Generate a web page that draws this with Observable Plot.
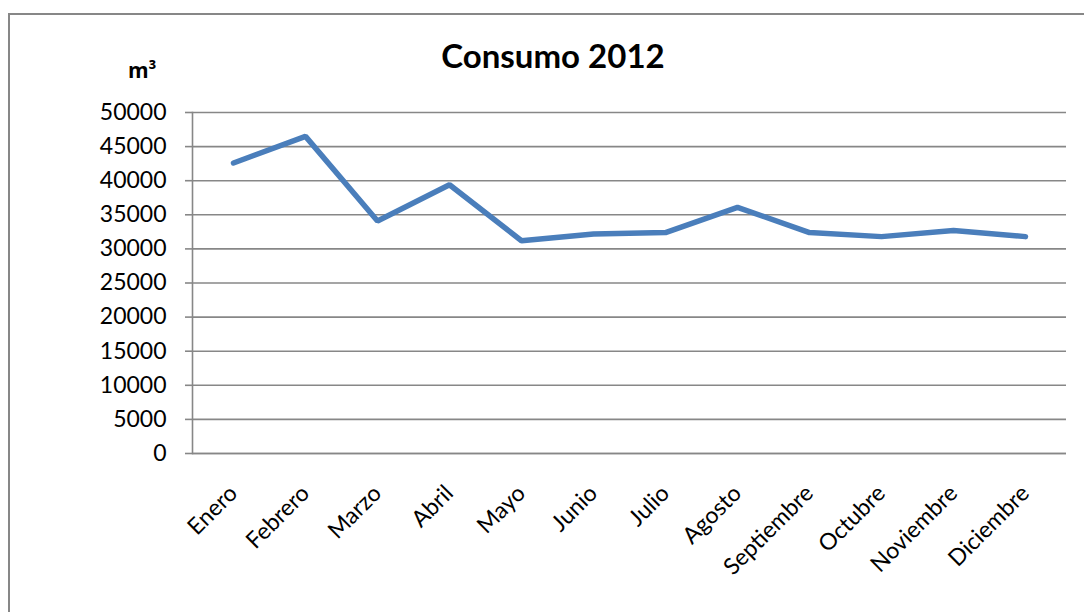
<!DOCTYPE html>
<html><head><meta charset="utf-8">
<script src="https://cdn.jsdelivr.net/npm/d3@7"></script>
<script src="https://cdn.jsdelivr.net/npm/@observablehq/plot@0.6"></script>
<style>
html,body{margin:0;padding:0;background:#fff;overflow:hidden;}
#wrap{position:relative;width:1084px;height:612px;font-family:Lato,"Open Sans",sans-serif;}
#frame{position:absolute;left:8px;top:13px;width:1100px;height:640px;border:2px solid #878787;box-sizing:border-box;}
#title{position:absolute;left:0;width:1106px;top:35px;text-align:center;font-weight:bold;font-size:33px;color:#000;}
#unit{position:absolute;left:128px;top:56px;font-weight:bold;font-size:21px;color:#000;font-family:"Open Sans",sans-serif;}
#chart{position:absolute;left:0;top:0;}
</style></head>
<body><div id="wrap"><div id="frame"></div><div id="chart"></div><div id="title">Consumo 2012</div><div id="unit">m³</div></div>
<script>
const months = ["Enero","Febrero","Marzo","Abril","Mayo","Junio","Julio","Agosto","Septiembre","Octubre","Noviembre","Diciembre"];
const consumo = [42600,46500,34100,39400,31200,32200,32400,36100,32400,31800,32700,31800];
const yTicks = [0,5000,10000,15000,20000,25000,30000,35000,40000,45000,50000];
const data = months.map((m,i)=>({mes:m, valor:consumo[i]}));
const grey = "#878787";
const plot = Plot.plot({
  width:1084, height:612,
  marginLeft:192, marginRight:18, marginTop:112, marginBottom:159,
  style:{fontFamily:"Lato, 'Open Sans', sans-serif", fontSize:"23px", color:"#000", background:"transparent", overflow:"visible"},
  x:{type:"point", domain:months, padding:0.5, label:null},
  y:{domain:[0,50000], label:null},
  marks:[
    Plot.gridY(yTicks,{stroke:grey, strokeOpacity:1, strokeWidth:1.6}),
    Plot.frame({anchor:"left", stroke:grey, strokeWidth:1.6}),
    Plot.axisY({ticks:yTicks, tickFormat:d=>String(d), tickSize:7, tickPadding:19, stroke:grey, strokeWidth:1.6, label:null, fill:"#000"}),
    Plot.ruleY([0],{stroke:grey, strokeWidth:1.6}),
    Plot.axisX({tickRotate:-45, tickSize:0, tickPadding:36, label:null, fill:"#000"}),
    Plot.line(data,{x:"mes", y:"valor", stroke:"#4a7ebb", strokeWidth:5.5, strokeLinecap:"round", strokeLinejoin:"miter"})
  ]
});
document.getElementById("chart").appendChild(plot);
</script></body></html>
